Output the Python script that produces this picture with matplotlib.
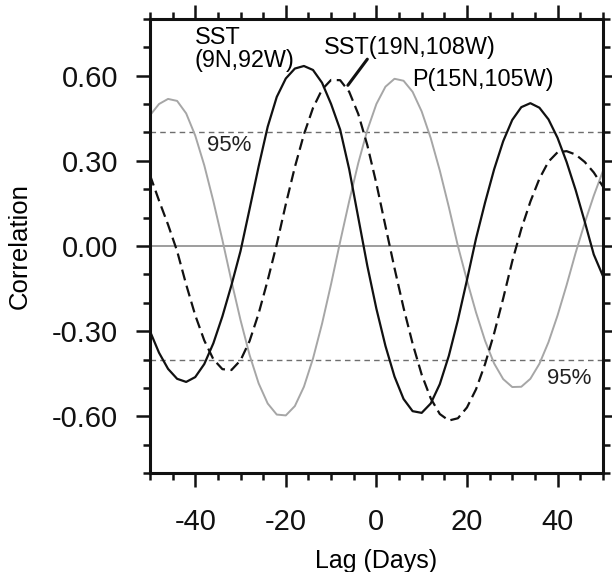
import numpy as np
import matplotlib
matplotlib.use('Agg')
import matplotlib.pyplot as plt
from matplotlib.ticker import MultipleLocator, FixedLocator, FormatStrFormatter

plt.rcParams['font.family'] = ['Liberation Sans', 'DejaVu Sans']
plt.rcParams['axes.unicode_minus'] = False

# lag (days) and lagged correlations
lag = list(range(-50, 51, 2))
sst_9n92w = [-0.300, -0.376, -0.433, -0.468, -0.479, -0.462, -0.416, -0.343, -0.248, -0.138,
             -0.018, 0.130, 0.280, 0.420, 0.525, 0.590, 0.625, 0.634, 0.620, 0.575,
             0.500, 0.410, 0.270, 0.100, -0.070, -0.221, -0.352, -0.460, -0.539, -0.582,
             -0.588, -0.555, -0.487, -0.387, -0.261, -0.120, 0.026, 0.153, 0.270, 0.369,
             0.444, 0.489, 0.503, 0.487, 0.446, 0.381, 0.296, 0.197, 0.086, -0.030,
             -0.105]
sst_19n108w = [0.250, 0.160, 0.075, -0.018, -0.136, -0.244, -0.333, -0.399, -0.434, -0.437,
               -0.403, -0.335, -0.238, -0.121, 0.006, 0.147, 0.278, 0.393, 0.486, 0.551,
               0.585, 0.584, 0.543, 0.465, 0.355, 0.220, 0.070, -0.078, -0.218, -0.344,
               -0.453, -0.537, -0.592, -0.615, -0.607, -0.569, -0.505, -0.416, -0.308, -0.185,
               -0.054, 0.060, 0.156, 0.237, 0.297, 0.330, 0.334, 0.322, 0.296, 0.259,
               0.210]
p_15n105w = [0.460, 0.500, 0.518, 0.511, 0.467, 0.389, 0.284, 0.158, 0.021, -0.124,
             -0.261, -0.384, -0.484, -0.555, -0.594, -0.597, -0.564, -0.496, -0.397, -0.274,
             -0.134, 0.015, 0.158, 0.292, 0.408, 0.500, 0.561, 0.589, 0.582, 0.543,
             0.474, 0.380, 0.266, 0.137, 0.000, -0.121, -0.234, -0.334, -0.414, -0.469,
             -0.497, -0.496, -0.468, -0.415, -0.339, -0.245, -0.138, -0.024, 0.081, 0.177,
             0.263]
sig95 = 0.40

xticks = [-40, -20, 0, 20, 40]
yticks = [-0.6, -0.3, 0.0, 0.3, 0.6]

fig = plt.figure(figsize=(6.12, 5.72), dpi=100)
ax = fig.add_axes([0.245, 0.173, 0.740, 0.794])

ax.axhline(0, color='#8c8c8c', lw=1.2, zorder=1)
for s in (sig95, -sig95):
    ax.axhline(s, color='#6e6e6e', lw=1.0, ls=(0, (4, 3)), zorder=1)

ax.plot(lag, p_15n105w, color='#a6a6a6', lw=1.4, zorder=2)
ax.plot(lag, sst_19n108w, color='#111111', lw=1.6, ls=(0, (5, 2.5)), zorder=3)
ax.plot(lag, sst_9n92w, color='#111111', lw=1.6, zorder=4)

ax.set_xlim(-50, 50)
ax.set_ylim(-0.8, 0.8)
ax.xaxis.set_major_locator(FixedLocator(xticks))
ax.xaxis.set_minor_locator(MultipleLocator(5))
ax.yaxis.set_major_locator(FixedLocator(yticks))
ax.yaxis.set_minor_locator(MultipleLocator(0.1))
ax.yaxis.set_major_formatter(FormatStrFormatter('%.2f'))

ax.tick_params(which='both', direction='out', top=True, right=True, width=1.8,
               labelsize=21, colors='#111111')
ax.tick_params(axis='x', pad=15)
ax.tick_params(axis='y', pad=13)
ax.tick_params(which='major', length=10)
ax.tick_params(which='minor', length=5)
for sp in ax.spines.values():
    sp.set_linewidth(2.2)
    sp.set_color('#111111')

ax.set_xlabel('Lag (Days)', fontsize=18, labelpad=9.5)
ax.set_ylabel('Correlation', fontsize=18.5)
ax.yaxis.set_label_coords(-0.262, 0.5)

# labels on the curves
ax.text(-40.1, 0.711, 'SST', fontsize=16.8, ha='left', va='baseline')
ax.text(-40.1, 0.629, '(9N,92W)', fontsize=16.8, ha='left', va='baseline')
ax.text(-11.5, 0.676, 'SST(19N,108W)', fontsize=16.8, ha='left', va='baseline')
ax.text(8.0, 0.562, 'P(15N,105W)', fontsize=16.8, ha='left', va='baseline')
ax.annotate('', xy=(-6.3, 0.566), xytext=(-2.0, 0.658),
            arrowprops=dict(arrowstyle='-', lw=2.2, color='#111111', shrinkA=0, shrinkB=0))
ax.text(-37.5, 0.334, '95%', fontsize=16, ha='left', va='baseline', color='#222222')
ax.text(37.7, -0.485, '95%', fontsize=16, ha='left', va='baseline', color='#222222')

fig.savefig('out.png', dpi=100)
